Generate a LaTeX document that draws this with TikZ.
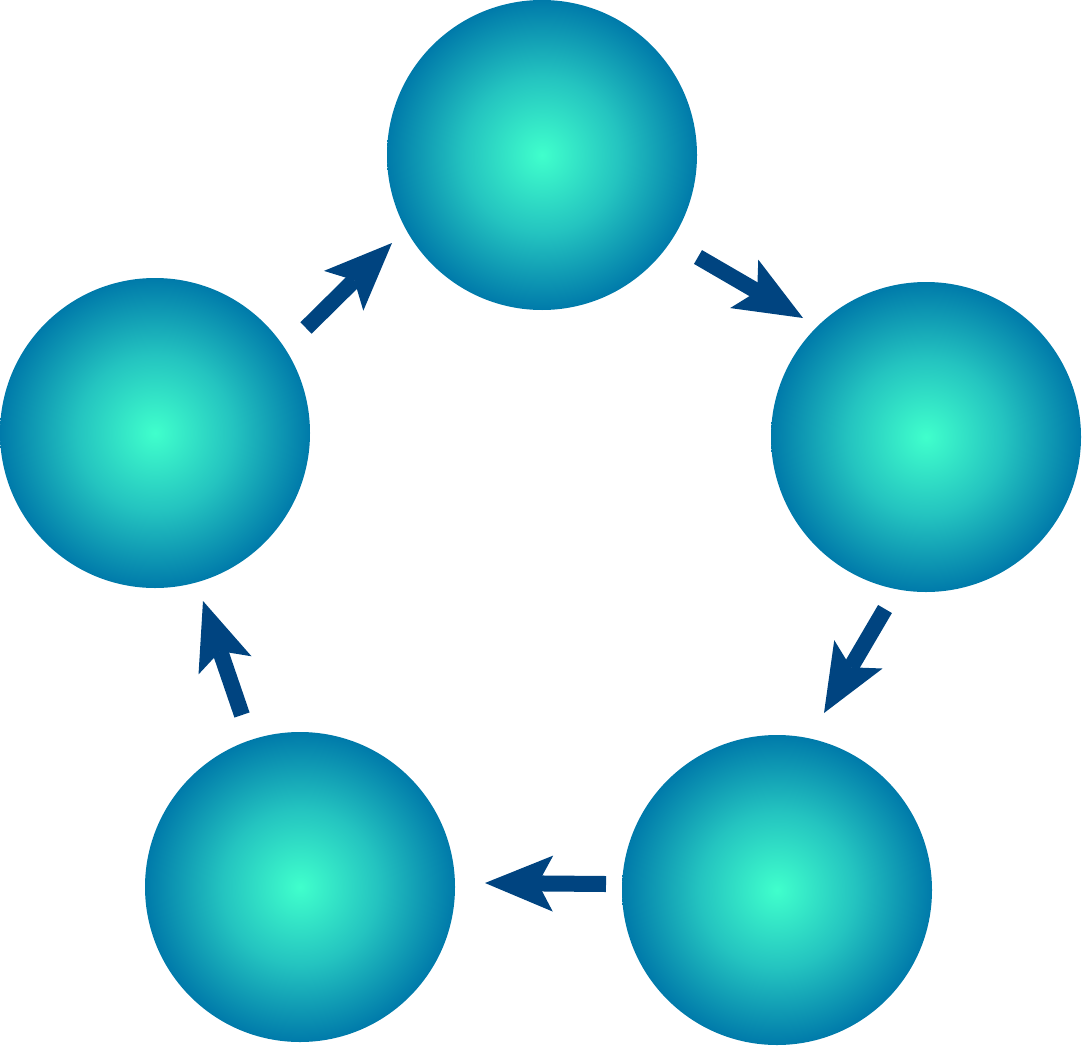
\documentclass[tikz,border=0pt]{standalone}
\usetikzlibrary{arrows.meta}
\definecolor{ballcenter}{RGB}{64,255,204}
\definecolor{ballmid}{RGB}{36,196,192}
\definecolor{balledge}{RGB}{0,122,170}
\definecolor{arrowblue}{RGB}{0,68,128}
\pgfdeclareradialshading{cellball}{\pgfpoint{0bp}{0bp}}{%
  color(0bp)=(ballcenter); color(12.5bp)=(ballmid); color(25bp)=(balledge); color(50bp)=(balledge)}
\tikzset{
  cell/.style={circle, minimum size=310pt, inner sep=0pt, shading=cellball},
  flow/.style={draw=arrowblue, line width=16pt,
    -{Stealth[length=68pt, width=56pt, inset=15pt, line width=0pt, fill=arrowblue]}}
}
\begin{document}
\begin{tikzpicture}[x=1pt, y=-1pt]
\useasboundingbox (0,0) rectangle (1083,1046);
\node[cell] (top) at (542,155) {};
\node[cell] (right) at (926,437) {};
\node[cell] (bright) at (777,890) {};
\node[cell] (bleft) at (300,887) {};
\node[cell] (left) at (155,433) {};
\coordinate (a1s) at (306,328); \coordinate (a1e) at (392,243);
\coordinate (a2s) at (698,257); \coordinate (a2e) at (803,318);
\coordinate (a3s) at (885,609); \coordinate (a3e) at (824,713);
\coordinate (a4s) at (606,884); \coordinate (a4e) at (485,883);
\coordinate (a5s) at (242,715); \coordinate (a5e) at (203,601);
\draw[flow] (a1s) -- (a1e);
\draw[flow] (a2s) -- (a2e);
\draw[flow] (a3s) -- (a3e);
\draw[flow] (a4s) -- (a4e);
\draw[flow] (a5s) -- (a5e);
\end{tikzpicture}
\end{document}
